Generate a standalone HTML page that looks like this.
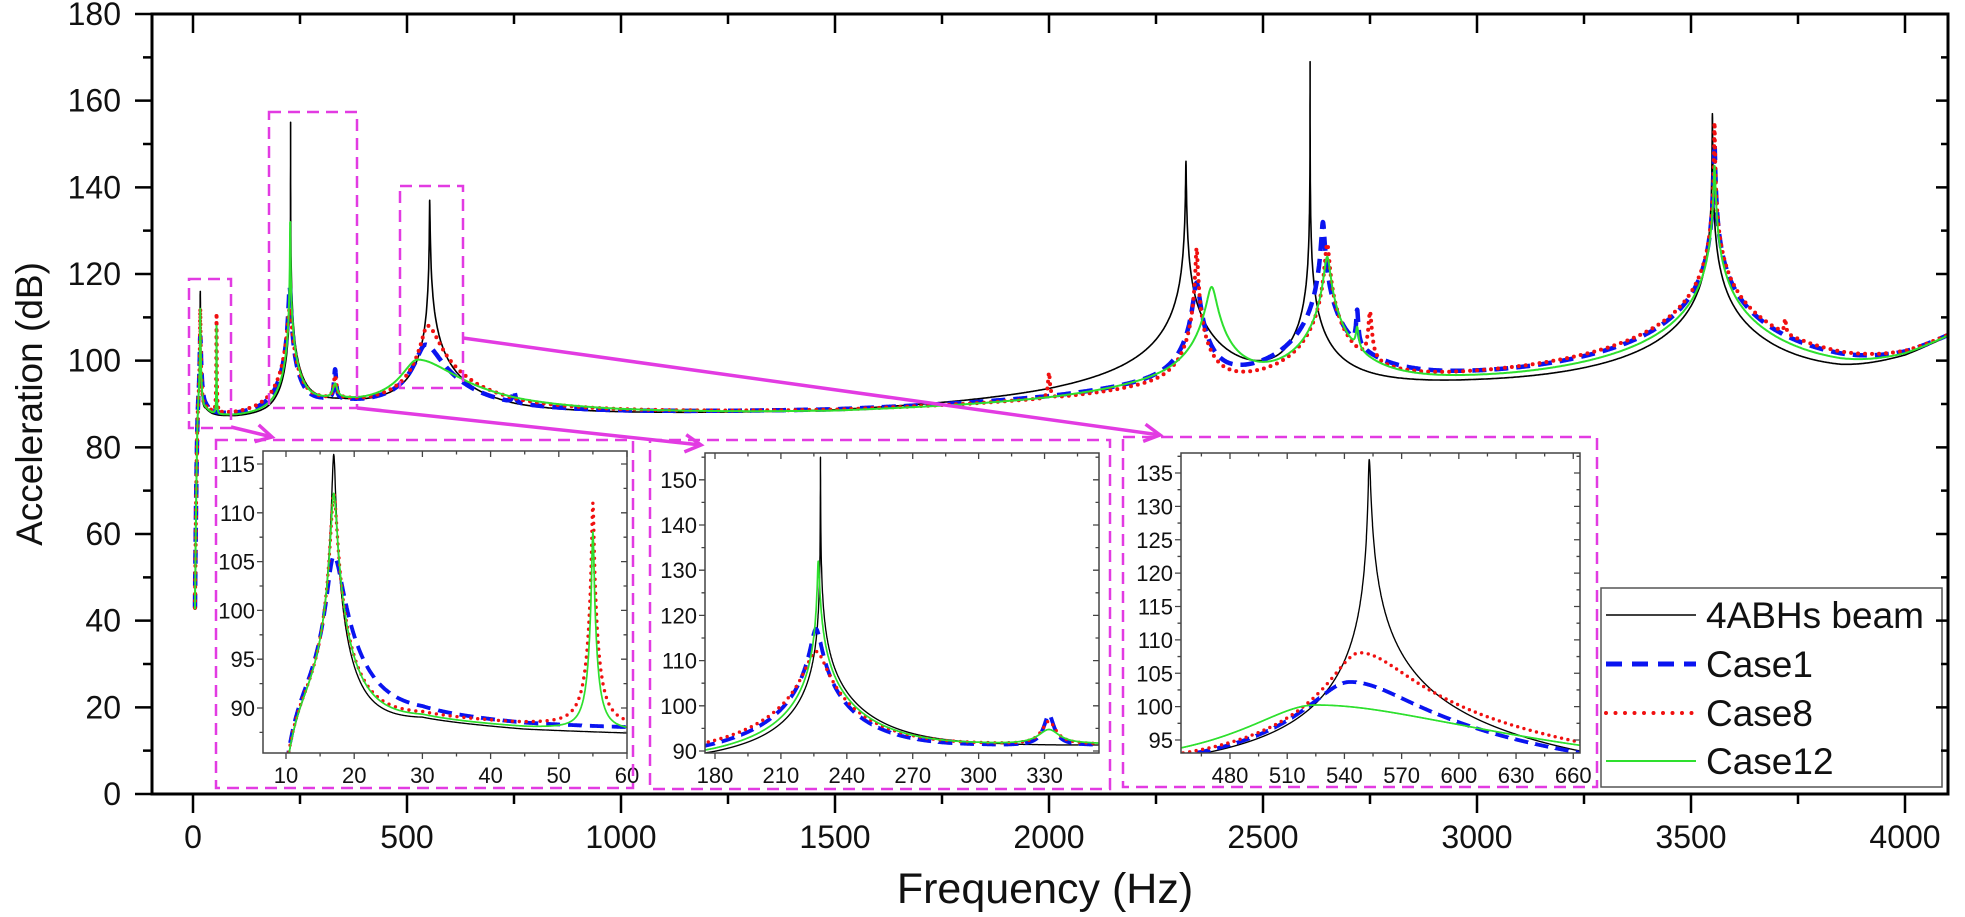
<!DOCTYPE html>
<html><head><meta charset="utf-8">
<style>
html,body{margin:0;padding:0;background:#fff;overflow:hidden;width:1965px;height:917px;}
svg{display:block;font-family:"Liberation Sans",Arial,sans-serif;}
</style></head>
<body>
<svg id="s" width="1965" height="917" viewBox="0 0 1965 917" xmlns="http://www.w3.org/2000/svg">
<defs>
<clipPath id="cm"><rect x="152" y="14" width="1796" height="780"/></clipPath>
<clipPath id="c1"><rect x="263" y="451" width="364" height="302"/></clipPath>
<clipPath id="c2"><rect x="705" y="453" width="394" height="300"/></clipPath>
<clipPath id="c3"><rect x="1181" y="453" width="399" height="300"/></clipPath>
</defs>
<g id="g"></g>
</svg>
<script>
(function(){
var NS="http://www.w3.org/2000/svg", G=document.getElementById('g');
function el(n,a,t){var e=document.createElementNS(NS,n);for(var k in a)e.setAttribute(k,a[k]);if(t!==undefined)e.textContent=t;G.appendChild(e);return e;}
var base=[[0,85.5],[20,86.5],[30,87.5],[45,86.5],[60,86],[100,85.5],[180,85.5],[220,86.5],[300,89],[350,89.5],[400,89],[470,89],[520,89.5],[600,89],[660,87.5],[750,86.5],[1000,86],[1500,85.5],[1800,86.5],[2000,87.5],[2200,89.5],[2500,91],[2800,91.5],[3000,92],[3300,92],[3500,92],[3700,92],[3850,95],[4000,100.5],[4100,105.5]];
function B(f){for(var i=1;i<base.length;i++){if(f<=base[i][0]){var a=base[i-1],b=base[i];return a[1]+(b[1]-a[1])*(f-a[0])/(b[0]-a[0]);}}return base[base.length-1][1];}
var S={
k:[[17,116,0.22,0.22],[228,155,0.019,0.03],[553,137,0.4,0.6],[2320,146,0.6,0.6],[2610,169,0.025,0.025],[3550,157,0.3,0.3]],
b:[[17,105.5,0.8,1.2],[226,117,2,2],[332,97,2,2],[543,103.5,18,30],[750,90,3,3],[2345,118,6,6],[2640,132,3,3],[2720,111,2,2],[3555,150,1,1]],
r:[[17,112,0.35,0.4],[55,111,0.14,0.14],[226,112,4,4],[332,95,3,3],[548,108,12,22],[2000,96,2,2],[2345,126,2,2],[2650,127,4,4],[2750,111,3,3],[3555,155,0.6,0.6],[3720,107,2,2]],
gr:[[17,112,0.35,0.4],[55,108,0.14,0.14],[227,132,0.3,0.4],[332,92,5,5],[525,99.8,30,70],[2380,117,10,10],[2650,124,6,6],[2720,106,3,3],[3555,145,1.5,1.5]]
};
function L(pk,f){var p=Math.pow(10,B(f)/10);for(var i=0;i<pk.length;i++){var q=pk[i],w=f<q[0]?q[2]:q[3],x=(f-q[0])/w;p+=Math.pow(10,q[1]/10)/(1+x*x);}
var r=f/11,n=Math.pow(r,12);return 10*Math.log10(p)+10*Math.log10(n/(1+n));}
function samples(pk,f0,f1,step){var a=[];for(var f=f0;f<=f1;f+=step)a.push(f);
var offs=[0,0.25,0.5,1,1.5,2,3,5,8,12,20,35,60,100,200,400,800,1600,3200];
pk.forEach(function(q){offs.forEach(function(o){[q[0]-o*q[2],q[0]+o*q[3]].forEach(function(f){if(f>=f0&&f<=f1)a.push(f);});});});
a.sort(function(x,y){return x-y;});return a;}
function path(pk,f0,f1,step,X,Y,extra,ymax){var a=samples(pk,f0,f1,step);if(extra)a=a.concat(samples(pk,extra[0],extra[1],extra[2])).sort(function(x,y){return x-y;});
var d="",last=-1;for(var i=0;i<a.length;i++){if(a[i]===last)continue;last=a[i];var v=L(pk,a[i]),y=Y(v);if(y>ymax)y=ymax;d+=(d?"L":"M")+X(a[i]).toFixed(1)+" "+y.toFixed(1);}return d;}
var sty={k:{stroke:"#000","stroke-width":1.6},b:{stroke:"#0a14f0","stroke-width":4.5,"stroke-dasharray":"14 8"},r:{stroke:"#f01010","stroke-width":4,"stroke-dasharray":"0 7","stroke-linecap":"round"},gr:{stroke:"#2ee02e","stroke-width":2}};
function drawSeries(clip,f0,f1,step,X,Y,scale,extra,ymax){var g=el("g",{"clip-path":"url(#"+clip+")",fill:"none","stroke-linejoin":"round"});
["k","b","r","gr"].forEach(function(k){var p=document.createElementNS(NS,"path");p.setAttribute("d",path(S[k],f0,f1,step,X,Y,extra,ymax));var st=sty[k];for(var a in st){var v=st[a];if(scale&&a=="stroke-width")v=v*scale;p.setAttribute(a,v);}g.appendChild(p);});}
var MX=function(f){return 193+f*0.428;},MY=function(v){return 794-v*4.3333;};
drawSeries("cm",4.6,4100,2,MX,MY,1,[4.6,70,0.1],800);
var M="#e23be2";
function dbox(x1,y1,x2,y2,w){el("rect",{x:x1,y:y1,width:x2-x1,height:y2-y1,fill:"none",stroke:M,"stroke-width":w||2.5,"stroke-dasharray":"12 7"});}
dbox(189,279,231,428);dbox(269,112,357,408);dbox(400,186,463,388);
function arrow(x1,y1,x2,y2){el("line",{x1:x1,y1:y1,x2:x2,y2:y2,stroke:M,"stroke-width":3.5});var a=Math.atan2(y2-y1,x2-x1),l=18,s=0.5;
el("polyline",{points:(x2-l*Math.cos(a-s))+","+(y2-l*Math.sin(a-s))+" "+x2+","+y2+" "+(x2-l*Math.cos(a+s))+","+(y2-l*Math.sin(a+s)),fill:"none",stroke:M,"stroke-width":3.5});}
arrow(231,427,272,437);arrow(357,408,701,445);arrow(463,338,1160,435);
function inset(bx,clip,ax,f0,f1,v0,v1,X,Y,xt,xmin,yt,ymin){
el("rect",{x:ax[0],y:ax[1],width:ax[2]-ax[0],height:ax[3]-ax[1],fill:"#fff"});
drawSeries(clip,f0,f1,0.05,X,Y,0.85,null,ax[3]+5);
el("rect",{x:ax[0],y:ax[1],width:ax[2]-ax[0],height:ax[3]-ax[1],fill:"none",stroke:"#444","stroke-width":1.5});
var g="";
xmin.forEach(function(f){var x=X(f);if(x<ax[0]||x>ax[2])return;var m=xt.indexOf(f)>=0,l=m?6:3.5;g+="M"+x+" "+ax[3]+"v"+l+"M"+x+" "+ax[1]+"v"+l;});
ymin.forEach(function(v){var y=Y(v);if(y<ax[1]||y>ax[3])return;var m=yt.indexOf(v)>=0,l=m?6:3.5;g+="M"+ax[0]+" "+y+"h-"+l+"M"+ax[2]+" "+y+"h-"+l;});
el("path",{d:g,stroke:"#444","stroke-width":1.3,fill:"none"});
xt.forEach(function(f){el("text",{x:X(f),y:ax[3]+30,"font-size":22,"text-anchor":"middle",fill:"#111"},String(f));});
yt.forEach(function(v){el("text",{x:ax[0]-8,y:Y(v)+8,"font-size":22,"text-anchor":"end",fill:"#111"},String(v));});
dbox(bx[0],bx[1],bx[2],bx[3]);}
function rng(a,b,s){var r=[];for(var v=a;v<=b+1e-9;v+=s)r.push(Math.round(v*10)/10);return r;}
var X1=function(f){return 286+(f-10)*6.82;},Y1=function(v){return 708-(v-90)*9.76;};
inset([216,440,633,788],"c1",[263,451,627,753],6,61,85,117,X1,Y1,[10,20,30,40,50,60],rng(5,60,5),[90,95,100,105,110,115],rng(85,115,2.5));
var X2=function(f){return 715+(f-180)*2.197;},Y2=function(v){return 751-(v-90)*4.52;};
inset([650,440,1110,789],"c2",[705,453,1099,753],174,356,89,157,X2,Y2,[180,210,240,270,300,330],rng(165,360,15),[90,100,110,120,130,140,150],rng(90,155,5));
var X3=function(f){return 1230+(f-480)*1.907;},Y3=function(v){return 740-(v-95)*6.675;};
inset([1123,437,1597,787],"c3",[1181,453,1580,753],452,665,92,139,X3,Y3,[480,510,540,570,600,630,660],rng(450,660,15),[95,100,105,110,115,120,125,130,135],rng(92.5,137.5,2.5));
el("rect",{x:1601,y:588,width:341,height:199,fill:"#fff",stroke:"#555","stroke-width":1.5});
var ly=[615,664,713,761],lt=["4ABHs beam","Case1","Case8","Case12"],lk=["k","b","r","gr"];
lk.forEach(function(k,i){var a={x1:1606,x2:1696,y1:ly[i],y2:ly[i],fill:"none"};var st=sty[k];for(var q in st)a[q]=st[q];if(k=="b"){a["stroke-dasharray"]="16 10";a["stroke-width"]=5;}if(k=="r"){a["stroke-dasharray"]="0 9.5";}el("line",a);
el("text",{x:1706,y:ly[i]+13,"font-size":37,fill:"#111"},lt[i]);});
el("path",{d:"M152 14H1948V794H152Z",fill:"none",stroke:"#000","stroke-width":3});
var t="";
for(var v=0;v<=180;v+=10){var y=MY(v),m=v%20==0;t+="M152 "+y+"h-"+(m?17:9)+"M1948 "+y+"h-"+(m?12:7);}
for(var f=0;f<=4100;f+=250){var x=MX(f),m=f%500==0;t+="M"+x+" 794v"+(m?19:10)+"M"+x+" 14v"+(m?19:10);}
el("path",{d:t,stroke:"#000","stroke-width":2.5,fill:"none"});
for(var v=0;v<=180;v+=20)el("text",{x:121,y:MY(v)+11,"font-size":32,"text-anchor":"end",fill:"#111"},String(v));
for(var f=0;f<=4000;f+=500)el("text",{x:MX(f),y:848,"font-size":32,"text-anchor":"middle",fill:"#111"},String(f));
el("text",{x:1045,y:903,"font-size":43,"text-anchor":"middle",fill:"#111"},"Frequency (Hz)");
el("text",{x:0,y:0,"font-size":37,"text-anchor":"middle",fill:"#111",transform:"translate(42 404) rotate(-90)"},"Acceleration (dB)");
})();
</script>
</body></html>
